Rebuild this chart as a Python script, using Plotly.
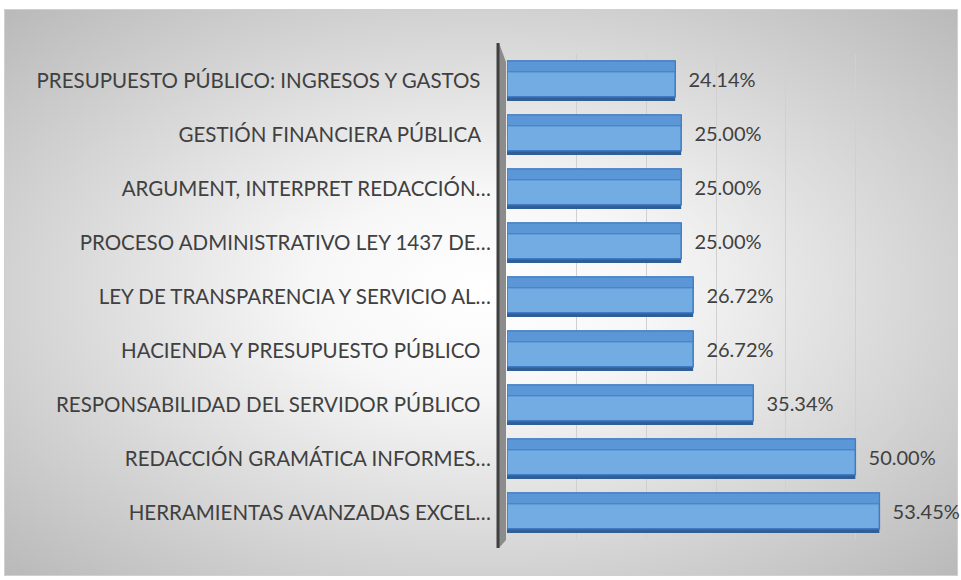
import base64
import plotly.graph_objects as go

# datos (de arriba hacia abajo)
temas = [
    'PRESUPUESTO PÚBLICO: INGRESOS Y GASTOS\u00a0\u00a0',
    'GESTIÓN FINANCIERA PÚBLICA\u00a0\u00a0',
    'ARGUMENT, INTERPRET REDACCIÓN…',
    'PROCESO ADMINISTRATIVO LEY 1437 DE…',
    'LEY DE TRANSPARENCIA Y SERVICIO AL…',
    'HACIENDA Y PRESUPUESTO PÚBLICO\u00a0\u00a0',
    'RESPONSABILIDAD DEL SERVIDOR PÚBLICO\u00a0\u00a0',
    'REDACCIÓN GRAMÁTICA INFORMES…',
    'HERRAMIENTAS AVANZADAS EXCEL…',
]
porcentajes = [24.14, 25.00, 25.00, 25.00, 26.72, 26.72, 35.34, 50.00, 53.45]
etiquetas = [f'\u00a0\u00a0{v:.2f}%' for v in porcentajes]

W, H = 961, 580
ML, MR, MT, MB = 507, 36, 54, 40
PW, PH = W - ML - MR, H - MT - MB

# fondo con degradado radial (estilo Excel)
svg = f'''<svg xmlns="http://www.w3.org/2000/svg" width="{W}" height="{H}">
<defs><radialGradient id="g" cx="50%" cy="50%" r="71%">
<stop offset="0" stop-color="#ffffff"/><stop offset="0.25" stop-color="#f7f7f7"/>
<stop offset="1" stop-color="#b9b9b9"/></radialGradient></defs>
<rect x="4.5" y="9.5" width="953" height="566" fill="url(#g)" stroke="#d0d0d0"/>
</svg>'''
fondo = 'data:image/svg+xml;base64,' + base64.b64encode(svg.encode()).decode()


def px(dx):
    return dx / PW


def py(dy):
    # dy en pixeles hacia arriba desde el borde inferior del area
    return dy / PH


fig = go.Figure()

# sombra inferior
fig.add_trace(go.Bar(
    y=temas, x=porcentajes, orientation='h',
    width=0.74, offset=-0.37,
    marker=dict(color='#2f5f96', line=dict(width=0)),
    hoverinfo='skip', showlegend=False
))
# cara frontal
fig.add_trace(go.Bar(
    y=temas, x=porcentajes, orientation='h',
    width=0.66, offset=-0.37,
    marker=dict(color='#72ace2', line=dict(color='#3f7bc2', width=1.5)),
    text=etiquetas, textposition='outside', cliponaxis=False,
    constraintext='none',
    textfont=dict(family='Lato, sans-serif', size=20, color='#404040'),
    hovertemplate='%{y}<br>%{x:.2f}%<extra></extra>',
    showlegend=False
))
# cara superior
fig.add_trace(go.Bar(
    y=temas, x=porcentajes, orientation='h',
    width=0.2, offset=-0.37,
    marker=dict(color='#5b97d6', line=dict(color='#3f7bc2', width=1)),
    hoverinfo='skip', showlegend=False
))

# pared izquierda
pared = (f'M {px(-8)},{1 + py(11)} L {px(-1)},{1 - py(8)} '
         f'L {px(-1)},{py(0)} L {px(-8)},{py(-8)} Z')
fig.add_shape(type='path', xref='paper', yref='paper', path=pared,
              fillcolor='#8c8c8c', line_width=0, layer='below')
fig.add_shape(type='line', xref='paper', yref='paper',
              x0=px(-9), x1=px(-9), y0=py(-8), y1=1 + py(11),
              line=dict(color='#404040', width=3), layer='below')

fig.add_layout_image(dict(
    source=fondo, xref='paper', yref='paper',
    x=-ML / PW, y=1 + MT / PH, sizex=W / PW, sizey=H / PH,
    xanchor='left', yanchor='top', sizing='stretch', layer='below'
))

fig.update_layout(
    width=W, height=H,
    margin=dict(l=ML, r=MR, t=MT, b=MB),
    barmode='overlay',
    paper_bgcolor='white', plot_bgcolor='rgba(0,0,0,0)',
    font=dict(family='Lato, sans-serif', color='#404040'),
)
fig.update_xaxes(range=[0, 60], dtick=10, showgrid=True, gridcolor='#d0d0d0',
                 gridwidth=1, showticklabels=False, zeroline=False, showline=False)
fig.update_yaxes(autorange='reversed', showgrid=False, showline=False,
                 ticks='', ticklabelstandoff=15,
                 tickfont=dict(family='Lato, sans-serif', size=20.5, color='#404040'))

fig.write_html('out.html', config={'displayModeBar': False},
               post_script="document.body.style.margin='0';")
